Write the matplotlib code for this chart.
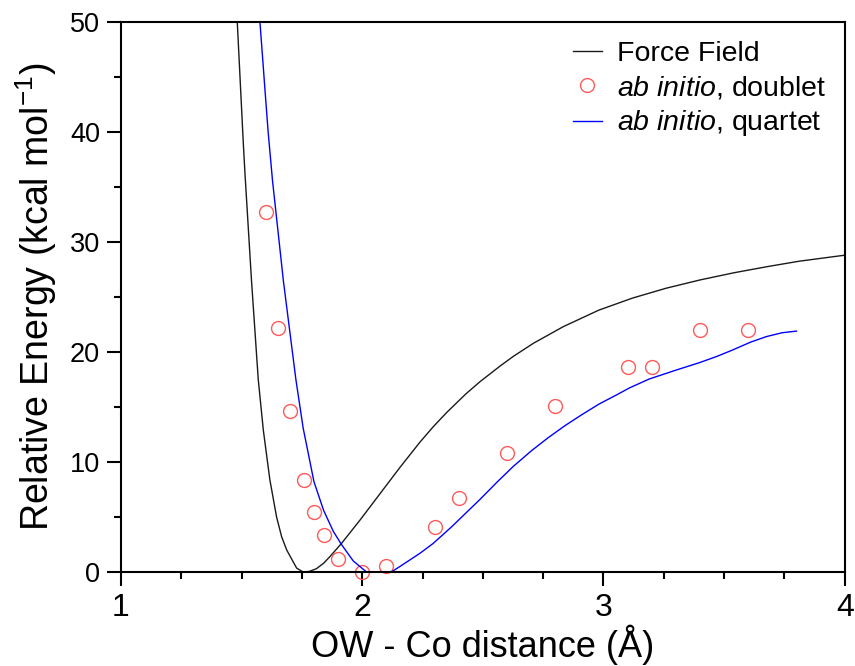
import matplotlib
matplotlib.use("Agg")
import matplotlib.pyplot as plt
from matplotlib.ticker import MultipleLocator

plt.rcParams['font.family'] = ['Liberation Sans', 'DejaVu Sans']
plt.rcParams['mathtext.fontset'] = 'custom'
plt.rcParams['mathtext.rm'] = 'Liberation Sans'
plt.rcParams['mathtext.it'] = 'Liberation Sans:italic'

# force field curve
ff_x = [1.482, 1.507, 1.514, 1.541, 1.569, 1.59, 1.617, 1.645, 1.666, 1.687,
        1.728, 1.755, 1.78, 1.81, 1.84, 1.866, 1.914, 1.99, 2.073, 2.156,
        2.239, 2.294, 2.35, 2.43, 2.488, 2.57, 2.626, 2.71, 2.833, 2.98,
        3.12, 3.26, 3.40, 3.54, 3.676, 3.81, 4.0]
ff_y = [50.0, 39.0, 36.2, 26.5, 17.5, 12.9, 8.4, 5.0, 3.2, 2.0,
        0.36, 0.0, 0.05, 0.3, 0.8, 1.4, 2.6, 4.7, 7.1, 9.5,
        11.8, 13.2, 14.5, 16.2, 17.3, 18.7, 19.6, 20.8, 22.3, 23.8,
        24.9, 25.8, 26.55, 27.2, 27.75, 28.25, 28.8]

# ab initio quartet curve
qt_x = [1.576, 1.60, 1.61, 1.628, 1.673, 1.725, 1.755, 1.80, 1.84, 1.88,
        1.914, 1.963, 2.018, 2.07, 2.12, 2.156, 2.239, 2.294, 2.37, 2.488,
        2.56, 2.626, 2.70, 2.77, 2.84, 2.91, 2.98, 3.054, 3.109, 3.19,
        3.30, 3.40, 3.47, 3.537, 3.61, 3.675, 3.74, 3.80]
qt_y = [50.0, 42.9, 40.0, 35.6, 26.5, 17.5, 13.1, 8.2, 5.6, 3.7,
        2.5, 1.0, 0.0, -0.3, 0.0, 0.5, 1.7, 2.6, 4.1, 6.6,
        8.2, 9.6, 11.0, 12.2, 13.3, 14.3, 15.25, 16.1, 16.75, 17.55,
        18.35, 19.05, 19.6, 20.2, 20.9, 21.4, 21.75, 21.9]

# ab initio doublet points
db_x = [1.60, 1.65, 1.70, 1.76, 1.80, 1.84, 1.90, 2.0, 2.1, 2.3, 2.4, 2.6,
        2.8, 3.1, 3.2, 3.4, 3.6]
db_y = [32.7, 22.2, 14.6, 8.4, 5.45, 3.4, 1.2, 0.0, 0.55, 4.1, 6.7, 10.8,
        15.1, 18.6, 18.6, 22.0, 22.0]

fig = plt.figure(figsize=(8.55, 6.66), dpi=100)
ax = fig.add_axes([0.1415, 0.1411, 0.8465, 0.8259])

ax.plot(ff_x, ff_y, color='#1a1a1a', lw=1.0, label='Force Field')
ax.plot(db_x, db_y, 'o', mfc='none', mec='#ff5a5a', mew=1.0, ms=10,
        label=r'$\it{ab\ initio}$, doublet', clip_on=False)
ax.plot(qt_x, qt_y, color='#0000ff', lw=1.0, label=r'$\it{ab\ initio}$, quartet')

ax.set_xlim(1, 4)
ax.set_ylim(0, 50)
ax.xaxis.set_major_locator(MultipleLocator(1))
ax.xaxis.set_minor_locator(MultipleLocator(0.25))
ax.yaxis.set_major_locator(MultipleLocator(10))
ax.yaxis.set_minor_locator(MultipleLocator(5))
ax.tick_params(which='both', direction='out', top=False, right=False, width=1.5)
ax.tick_params(which='major', length=10, pad=5)
ax.tick_params(which='minor', length=5)
ax.tick_params(axis='x', which='major', labelsize=23)
ax.tick_params(axis='y', which='major', labelsize=19.5)
for s in ax.spines.values():
    s.set_linewidth(1.5)

ax.set_xlabel('OW - Co distance (Å)', fontsize=26, labelpad=1)
ax.set_ylabel(r'Relative Energy (kcal mol$^{-1}$)', fontsize=27, labelpad=8)

ax.legend(loc='upper right', bbox_to_anchor=(0.975, 0.965), frameon=False,
          fontsize=20.5, handlelength=1.0, handletextpad=0.55, labelspacing=0.25,
          borderpad=0, borderaxespad=0)

fig.savefig('out.png', dpi=100)
